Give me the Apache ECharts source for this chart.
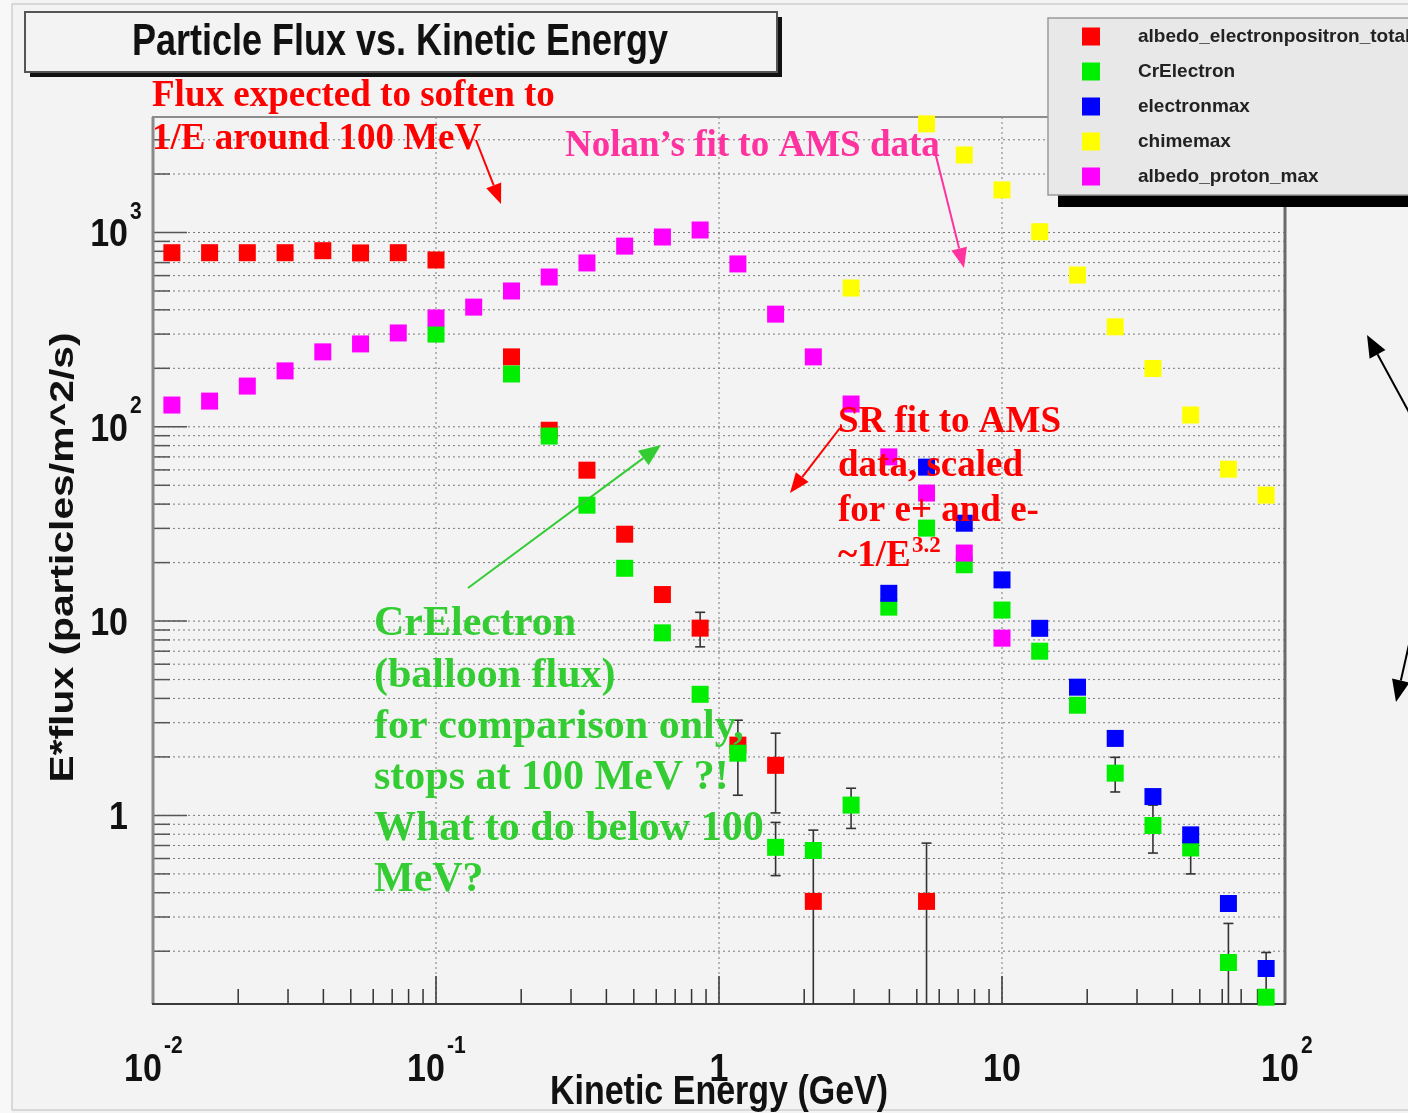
<!DOCTYPE html>
<html><head><meta charset="utf-8">
<script src="https://cdn.jsdelivr.net/npm/echarts@6/dist/echarts.min.js"></script>
<style>html,body{margin:0;padding:0;background:#f3f3f3}#c{width:1408px;height:1113px}</style>
</head><body><div id="c"></div>
<script>
// ---------- data ----------
const energyGeV = [0.01166,0.01585,0.02154,0.02929,0.03981,0.05412,0.07356,0.1,0.1359,0.1848,
  0.2512,0.3415,0.4642,0.631,0.8577,1.166,1.585,2.154,2.929,3.981,
  5.412,7.356,10,13.59,18.48,25.12,34.15,46.42,63.1,85.77];
const albedoElectronPositronTotal = [787,787,787,787,806,785,787,722,null,229,
  96,59.8,28,13.7,9.2,2.3,1.81,0.361,null,null,
  0.361,null,null,null,null,null,null,null,null,null];
const crElectron = [null,null,null,null,null,null,null,300,null,187,
  89.6,39.5,18.7,8.7,4.2,2.09,0.685,0.66,1.13,11.8,
  30.1,19.5,11.4,7.0,3.69,1.65,0.887,0.68,0.175,0.116];
const electronMax = [null,null,null,null,null,null,null,null,null,null,
  null,null,null,null,null,null,null,null,null,13.9,
  62,31.9,16.3,9.18,4.57,2.49,1.25,0.794,0.352,0.163];
const chimeMax = [null,null,null,null,null,null,null,null,null,null,
  null,null,null,null,null,null,null,null,518,null,
  3622,2506,1656,1009,604,327,199.5,115,60.5,44.5];
const albedoProtonMax = [129.4,135.6,162,194,243,267,304,363,413,500,
  590,697,851,948,1030,689,380,229,131,70,
  45.6,22.4,8.17,null,null,null,null,null,null,null];
// error bars: energy, low, high
const errorBarE    = [0.8577, 1.166, 1.585, 1.585, 2.154, 2.929, 5.412, 25.12, 34.15, 46.42, 63.1, 85.77];
const errorBarLow  = [7.37,   1.27,  1.03,  0.49,  0.03,  0.857, 0.03,  1.32,  0.64,  0.50,  0.03, 0.12];
const errorBarHigh = [11.1,   3.09,  2.65,  0.92,  0.84,  1.38,  0.72,  1.99,  1.13,  0.80,  0.278, 0.197];
// axis tick labels
const xLabelValues = [0.01, 0.1, 1, 10, 100];
const xLabelBase   = ['10', '10', '1', '10', '10'];
const xLabelExp    = ['-2', '-1', '', '', '2'];
const yLabelValues = [1000, 100, 10, 1];
const yLabelBase   = ['10', '10', '10', '1'];
const yLabelExp    = ['3', '2', '', ''];
const seriesNames = ['albedo_electronpositron_total','CrElectron','electronmax','chimemax','albedo_proton_max'];
const seriesColors = ['#ff0000','#00ee00','#0000ff','#ffff00','#ff00ff'];
const seriesValues = [albedoElectronPositronTotal, crElectron, electronMax, chimeMax, albedoProtonMax];

const X_MIN = 0.01, X_MAX = 100, Y_MIN = 0.107, Y_MAX = 3930;

// axis decoration values (log-axis tick generation)
const yMinorVals = [], yMajorVals = [];
for (let k = -1; k <= 3; k++) for (let m = 1; m <= 9; m++) {
  const v = m * Math.pow(10, k);
  if (v > Y_MIN && v < Y_MAX) (m === 1 ? yMajorVals : yMinorVals).push(v);
}
const xMinorVals = [], xMajorVals = [];
for (let k = -2; k <= 1; k++) for (let m = 1; m <= 9; m++) {
  const v = m * Math.pow(10, k);
  if (v > X_MIN * 1.001 && v < X_MAX) (m === 1 ? xMajorVals : xMinorVals).push(v);
}

const SANS = '"Liberation Sans", Arial, sans-serif';
const SERIF = '"Liberation Serif", "Times New Roman", serif';

function renderFrame(params, api) {
  const lt = api.coord([X_MIN, Y_MAX]), rb = api.coord([X_MAX, Y_MIN]);
  const L = lt[0], T = lt[1], R = rb[0], B = rb[1];
  const kids = [];
  const dotted = {stroke: '#7a7a7a', lineWidth: 1, lineDash: [2, 3]};
  yMinorVals.concat(yMajorVals).forEach(v => {
    const y = api.coord([X_MIN, v])[1];
    kids.push({type: 'line', shape: {x1: L, y1: y, x2: R, y2: y}, style: dotted});
  });
  xMajorVals.forEach(v => {
    const x = api.coord([v, Y_MIN])[0];
    kids.push({type: 'line', shape: {x1: x, y1: T, x2: x, y2: B}, style: dotted});
  });
  // ticks
  yMinorVals.forEach(v => { const y = api.coord([X_MIN, v])[1];
    kids.push({type: 'line', shape: {x1: L, y1: y, x2: L + 17, y2: y}, style: {stroke: '#555', lineWidth: 1.5}}); });
  yMajorVals.forEach(v => { const y = api.coord([X_MIN, v])[1];
    kids.push({type: 'line', shape: {x1: L, y1: y, x2: L + 34, y2: y}, style: {stroke: '#555', lineWidth: 1.5}}); });
  xMinorVals.forEach(v => { const x = api.coord([v, Y_MIN])[0];
    kids.push({type: 'line', shape: {x1: x, y1: B, x2: x, y2: B - 15}, style: {stroke: '#333', lineWidth: 1.5}}); });
  xMajorVals.forEach(v => { const x = api.coord([v, Y_MIN])[0];
    kids.push({type: 'line', shape: {x1: x, y1: B, x2: x, y2: B - 28}, style: {stroke: '#333', lineWidth: 1.5}}); });
  // frame
  kids.push({type: 'rect', shape: {x: L, y: T, width: R - L, height: B - T}, style: {fill: null, stroke: '#8c8c8c', lineWidth: 2}});
  kids.push({type: 'line', shape: {x1: L, y1: T, x2: L, y2: B}, style: {stroke: '#8a8a8a', lineWidth: 3}});
  kids.push({type: 'line', shape: {x1: R, y1: T, x2: R, y2: B}, style: {stroke: '#6a6a6a', lineWidth: 3}});
  kids.push({type: 'line', shape: {x1: L - 1, y1: B, x2: R + 1, y2: B}, style: {stroke: '#3a3a3a', lineWidth: 2}});
  // y labels
  yLabelValues.forEach((v, i) => {
    const y = api.coord([X_MIN, v])[1];
    kids.push({type: 'text', x: L - 25, y: y + 3, scaleY: 1.15,
      style: {text: yLabelBase[i], fontFamily: SANS, fontWeight: 'bold', fontSize: 34, fill: '#111', align: 'right', verticalAlign: 'middle'}});
    if (yLabelExp[i]) kids.push({type: 'text', x: L - 23, y: y - 20, scaleY: 1.15,
      style: {text: yLabelExp[i], fontFamily: SANS, fontWeight: 'bold', fontSize: 21, fill: '#111', align: 'left', verticalAlign: 'middle'}});
  });
  // x labels
  xLabelValues.forEach((v, i) => {
    const x = api.coord([v, Y_MIN])[0];
    const bw = xLabelBase[i].length * 19, ew = xLabelExp[i].length * 10;
    const left = x - (bw + (ew ? ew + 2 : 0)) / 2 + (ew ? 1 : 0);
    kids.push({type: 'text', x: left, y: B + 66, scaleY: 1.15,
      style: {text: xLabelBase[i], fontFamily: SANS, fontWeight: 'bold', fontSize: 34, fill: '#111', align: 'left', verticalAlign: 'middle'}});
    if (ew) kids.push({type: 'text', x: left + bw + 2, y: B + 42, scaleY: 1.15,
      style: {text: xLabelExp[i], fontFamily: SANS, fontWeight: 'bold', fontSize: 21, fill: '#111', align: 'left', verticalAlign: 'middle'}});
  });
  // axis titles
  kids.push({type: 'text', x: (L + R) / 2, y: B + 89, scaleY: 1.2,
    style: {text: 'Kinetic Energy (GeV)', fontFamily: SANS, fontWeight: 'bold', fontSize: 34, fill: '#111', align: 'center', verticalAlign: 'middle'}});
  kids.push({type: 'text', x: 64, y: (T + B) / 2 - 3, rotation: Math.PI / 2, scaleX: 1.2,
    style: {text: 'E*flux (particles/m^2/s)', fontFamily: SANS, fontWeight: 'bold', fontSize: 34, fill: '#111', align: 'center', verticalAlign: 'middle'}});
  return {type: 'group', children: kids};
}

function renderErr(params, api) {
  const x = api.value(0), lo = api.value(1), hi = api.value(2);
  const p1 = api.coord([x, lo]), p2 = api.coord([x, hi]);
  const st = {stroke: '#333', lineWidth: 1.6};
  return {type: 'group', children: [
    {type: 'line', shape: {x1: p1[0], y1: p1[1], x2: p2[0], y2: p2[1]}, style: st},
    {type: 'line', shape: {x1: p1[0] - 5, y1: p1[1], x2: p1[0] + 5, y2: p1[1]}, style: st},
    {type: 'line', shape: {x1: p2[0] - 5, y1: p2[1], x2: p2[0] + 5, y2: p2[1]}, style: st}
  ]};
}

function arrow(x1, y1, x2, y2, color, w, hl, hw) {
  const a = Math.atan2(y2 - y1, x2 - x1);
  const bx = x2 - hl * Math.cos(a), by = y2 - hl * Math.sin(a);
  const px = -Math.sin(a) * hw / 2, py = Math.cos(a) * hw / 2;
  return [
    {type: 'line', z: 20, shape: {x1: x1, y1: y1, x2: bx, y2: by}, style: {stroke: color, lineWidth: w}},
    {type: 'polygon', z: 20, shape: {points: [[x2, y2], [bx + px, by + py], [bx - px, by - py]]}, style: {fill: color}}
  ];
}
function note(x, y, text, color, size) {
  return {type: 'text', z: 20, x: x, y: y, style: {text: text, fontFamily: SERIF, fontWeight: 'bold', fontSize: size, fill: color, align: 'left', verticalAlign: 'middle'}};
}

const RED = '#ff0000', GREEN = '#33cc33', PINK = '#ff339f';
const graphics = [
  {type: 'rect', z: 0, shape: {x: 0, y: 0, width: 12, height: 1113}, style: {fill: '#f8f8f8'}},
  {type: 'rect', z: 1, shape: {x: 12, y: 4, width: 1500, height: 1106}, style: {fill: null, stroke: '#cfcfcf', lineWidth: 1.5}},
  // title box
  {type: 'rect', z: 19, shape: {x: 30, y: 17, width: 752, height: 60}, style: {fill: '#111'}},
  {type: 'rect', z: 19, shape: {x: 25, y: 12, width: 752, height: 60}, style: {fill: '#f3f3f3', stroke: '#555', lineWidth: 2}},
  {type: 'text', z: 20, x: 400, y: 43, scaleY: 1.25, style: {text: 'Particle Flux vs. Kinetic Energy', fontFamily: SANS, fontWeight: 'bold', fontSize: 36, fill: '#111', align: 'center', verticalAlign: 'middle'}},
  // legend shadow
  {type: 'rect', z: 3, shape: {x: 1058, y: 29, width: 400, height: 178}, style: {fill: '#000'}},
  note(152, 96, 'Flux expected to soften to', RED, 37),
  note(152, 139, '1/E around 100 MeV', RED, 37),
  note(565, 146, 'Nolan\u2019s fit to AMS data', PINK, 37),
  note(838, 422, 'SR fit to AMS', RED, 37),
  note(838, 466, 'data, scaled', RED, 37),
  note(838, 511, 'for e+ and e-', RED, 37),
  note(838, 556, '~1/E', RED, 37),
  note(912, 546, '3.2', RED, 23),
  note(374, 624, 'CrElectron', GREEN, 42),
  note(374, 676, '(balloon flux)', GREEN, 42),
  note(374, 727, 'for comparison only,', GREEN, 42),
  note(374, 778, 'stops at 100 MeV ?!', GREEN, 42),
  note(374, 829, 'What to do below 100', GREEN, 42),
  note(374, 880, 'MeV?', GREEN, 42)
].concat(
  arrow(476, 140, 501, 204, RED, 2, 20, 16),
  arrow(935, 152, 964, 268, PINK, 2, 20, 16),
  arrow(840, 428, 790, 493, RED, 2, 20, 16),
  arrow(468, 588, 661, 445, '#33cc33', 2, 22, 18),
  arrow(1410, 414, 1367, 335, '#000', 2, 22, 18),
  arrow(1410, 640, 1396, 702, '#000', 2, 22, 18)
);

const scatterSeries = seriesNames.map((name, si) => ({
  name: name, type: 'scatter', z: 3, symbol: 'rect', symbolSize: 17,
  itemStyle: {color: seriesColors[si], opacity: 1},
  data: energyGeV.map((e, i) => seriesValues[si][i] == null ? null : [e, seriesValues[si][i]]).filter(d => d)
}));

const chart = echarts.init(document.getElementById('c'), null, {renderer: 'canvas'});
chart.setOption({
  backgroundColor: '#f3f3f3',
  animation: false,
  grid: {left: 153, top: 117, width: 1132, height: 887, show: false, outerBoundsMode: 'none'},
  xAxis: {type: 'log', logBase: 10, min: X_MIN, max: X_MAX, show: false},
  yAxis: {type: 'log', logBase: 10, min: Y_MIN, max: Y_MAX, show: false},
  legend: {
    data: seriesNames, orient: 'vertical', left: 1048, top: 18, z: 4,
    padding: [9, 20, 9, 34], itemWidth: 18, itemHeight: 18, itemGap: 16, icon: 'rect',
    backgroundColor: '#e8e8e8', borderColor: '#9a9a9a', borderWidth: 1.5, selectedMode: false,
    textStyle: {fontFamily: SANS, fontSize: 19, fontWeight: 'bold', color: '#222', padding: [0, 0, 0, 33]}
  },
  graphic: graphics,
  series: [
    {type: 'custom', name: 'frame', z: 1, silent: true, clip: false, renderItem: renderFrame, data: [[1, 1]]},
    {type: 'custom', name: 'errors', z: 2, silent: true, clip: true, renderItem: renderErr,
      data: errorBarE.map((e, i) => [e, errorBarLow[i], errorBarHigh[i]])}
  ].concat(scatterSeries)
});
</script></body></html>
